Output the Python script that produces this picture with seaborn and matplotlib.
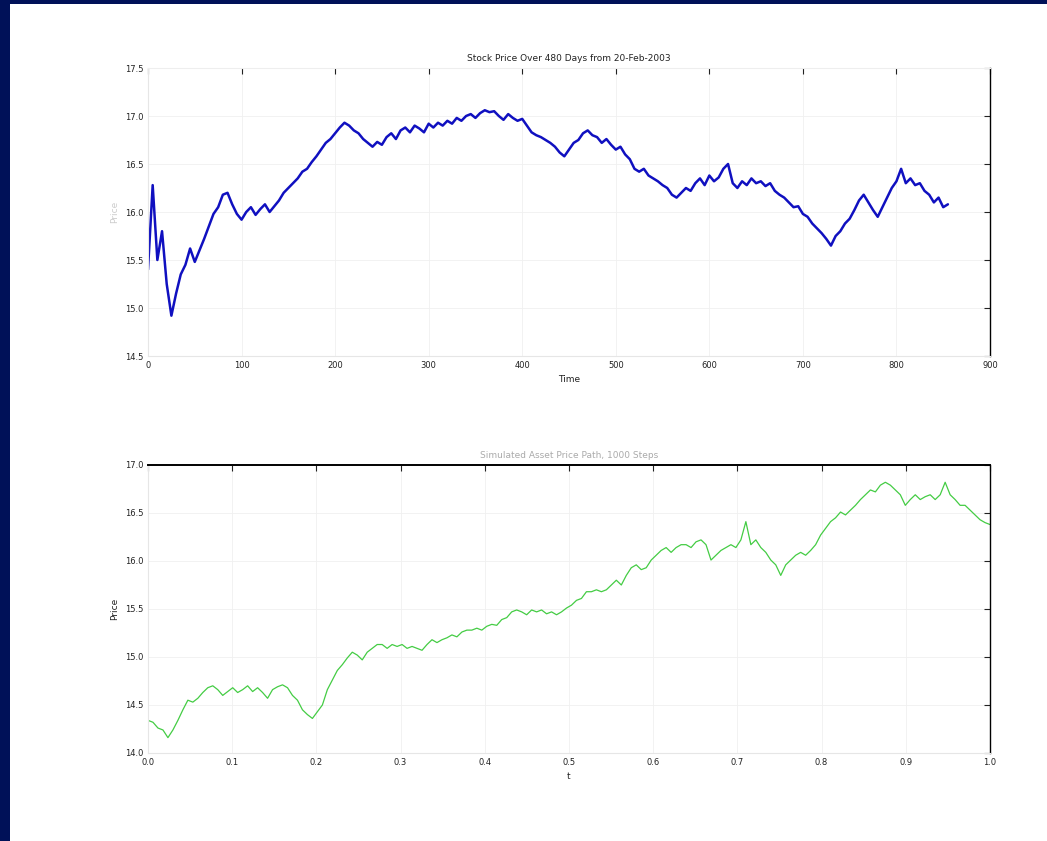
import numpy as np
import pandas as pd
import matplotlib
matplotlib.use("Agg")
import matplotlib.pyplot as plt
import seaborn as sns
from matplotlib.patches import Rectangle

# top panel: daily price path (sampled every 5 days)
top_days_step = 5
top_price = [
    15.40, 16.28, 15.50, 15.80, 15.25, 14.92, 15.15, 15.35, 15.45, 15.62,
    15.48, 15.60, 15.72, 15.85, 15.98, 16.05, 16.18, 16.20, 16.08, 15.98,
    15.92, 16.00, 16.05, 15.97, 16.03, 16.08, 16.00, 16.06, 16.12, 16.20,
    16.25, 16.30, 16.35, 16.42, 16.45, 16.52, 16.58, 16.65, 16.72, 16.76,
    16.82, 16.88, 16.93, 16.90, 16.85, 16.82, 16.76, 16.72, 16.68, 16.73,
    16.70, 16.78, 16.82, 16.76, 16.85, 16.88, 16.83, 16.90, 16.87, 16.83,
    16.92, 16.88, 16.93, 16.90, 16.95, 16.92, 16.98, 16.95, 17.00, 17.02,
    16.98, 17.03, 17.06, 17.04, 17.05, 17.00, 16.96, 17.02, 16.98, 16.95,
    16.97, 16.90, 16.83, 16.80, 16.78, 16.75, 16.72, 16.68, 16.62, 16.58,
    16.65, 16.72, 16.75, 16.82, 16.85, 16.80, 16.78, 16.72, 16.76, 16.70,
    16.65, 16.68, 16.60, 16.55, 16.45, 16.42, 16.45, 16.38, 16.35, 16.32,
    16.28, 16.25, 16.18, 16.15, 16.20, 16.25, 16.22, 16.30, 16.35, 16.28,
    16.38, 16.32, 16.36, 16.45, 16.50, 16.30, 16.25, 16.32, 16.28, 16.35,
    16.30, 16.32, 16.27, 16.30, 16.22, 16.18, 16.15, 16.10, 16.05, 16.06,
    15.98, 15.95, 15.88, 15.83, 15.78, 15.72, 15.65, 15.75, 15.80, 15.88,
    15.93, 16.02, 16.12, 16.18, 16.10, 16.02, 15.95, 16.05, 16.15, 16.25,
    16.32, 16.45, 16.30, 16.35, 16.28, 16.30, 16.22, 16.18, 16.10, 16.15,
    16.05, 16.08,
]

# bottom panel: simulated path on t in [0, 1]
bottom_price = [
    14.34, 14.32, 14.26, 14.24, 14.16, 14.24, 14.34, 14.45, 14.55, 14.53,
    14.57, 14.63, 14.68, 14.70, 14.66, 14.60, 14.64, 14.68, 14.63, 14.66,
    14.70, 14.64, 14.68, 14.63, 14.57, 14.66, 14.69, 14.71, 14.68, 14.60,
    14.55, 14.45, 14.40, 14.36, 14.43, 14.50, 14.66, 14.76, 14.86, 14.92,
    14.99, 15.05, 15.02, 14.97, 15.05, 15.09, 15.13, 15.13, 15.09, 15.13,
    15.11, 15.13, 15.09, 15.11, 15.09, 15.07, 15.13, 15.18, 15.15, 15.18,
    15.20, 15.23, 15.21, 15.26, 15.28, 15.28, 15.30, 15.28, 15.32, 15.34,
    15.33, 15.39, 15.41, 15.47, 15.49, 15.47, 15.44, 15.49, 15.47, 15.49,
    15.45, 15.47, 15.44, 15.47, 15.51, 15.54, 15.59, 15.61, 15.68, 15.68,
    15.70, 15.68, 15.70, 15.75, 15.80, 15.75, 15.85, 15.93, 15.96, 15.91,
    15.93, 16.01, 16.06, 16.11, 16.14, 16.09, 16.14, 16.17, 16.17, 16.14,
    16.20, 16.22, 16.17, 16.01, 16.06, 16.11, 16.14, 16.17, 16.14, 16.22,
    16.41, 16.17, 16.22, 16.14, 16.09, 16.01, 15.96, 15.85, 15.96, 16.01,
    16.06, 16.09, 16.06, 16.11, 16.17, 16.27, 16.34, 16.41, 16.45, 16.51,
    16.48, 16.53, 16.58, 16.64, 16.69, 16.74, 16.72, 16.79, 16.82, 16.79,
    16.74, 16.69, 16.58, 16.64, 16.69, 16.64, 16.67, 16.69, 16.64, 16.69,
    16.82, 16.69, 16.64, 16.58, 16.58, 16.53, 16.48, 16.43, 16.40, 16.38,
]

top_yticks = [14.5, 15, 15.5, 16, 16.5, 17, 17.5]
top_xticks = [0, 100, 200, 300, 400, 500, 600, 700, 800, 900]
bottom_yticks = [14, 14.5, 15, 15.5, 16, 16.5, 17]
bottom_xticks = [0, 0.1, 0.2, 0.3, 0.4, 0.5, 0.6, 0.7, 0.8, 0.9, 1]

top_title = "Stock Price Over 480 Days from 20-Feb-2003"
bottom_title = "Simulated Asset Price Path, 1000 Steps"

top_df = pd.DataFrame({
    "day": np.arange(len(top_price)) * top_days_step,
    "price": top_price,
})
bottom_df = pd.DataFrame({
    "t": np.linspace(0, 1, len(bottom_price)),
    "price": bottom_price,
})

sns.set_style("white")
plt.rcParams["font.family"] = ["DejaVu Sans"]

fig = plt.figure(figsize=(10.47, 8.41), dpi=100)
fig.patch.set_facecolor("#001158")
# white slide area (drawn behind the axes)
fig.patches.append(Rectangle((10 / 1047, 0), 1, 1 - 4 / 841,
                             transform=fig.transFigure, facecolor="white",
                             edgecolor="none", zorder=-10))

ax1 = fig.add_axes([148 / 1047, 1 - 356 / 841, 842 / 1047, 288 / 841])
ax2 = fig.add_axes([148 / 1047, 1 - 753 / 841, 842 / 1047, 288 / 841])

sns.lineplot(data=top_df, x="day", y="price", ax=ax1,
             color="#1010c0", linewidth=1.8)
sns.lineplot(data=bottom_df, x="t", y="price", ax=ax2,
             color="#44cc44", linewidth=0.9)

for ax, xt, yt in [(ax1, top_xticks, top_yticks),
                   (ax2, bottom_xticks, bottom_yticks)]:
    ax.set_facecolor("white")
    ax.set_xticks(xt)
    ax.set_yticks(yt)
    ax.set_xlim(xt[0], xt[-1])
    ax.set_ylim(yt[0], yt[-1])
    ax.tick_params(direction="in", top=True, right=True, length=4,
                   width=0.8, labelsize=6, colors="#222222")
    ax.grid(True, color="#f0f0f0", linewidth=0.6)
    for side in ["left", "bottom"]:
        ax.spines[side].set_color("#e6e6e6")
    ax.spines["right"].set_color("black")
    ax.spines["right"].set_linewidth(1.0)

ax1.spines["top"].set_color("#eeeeee")
ax2.spines["top"].set_color("black")
ax2.spines["top"].set_linewidth(1.4)

ax1.set_title(top_title, fontsize=6.5, color="#222222", pad=5)
ax2.set_title(bottom_title, fontsize=6.5, color="#aaaaaa", pad=5)
ax1.set_xlabel("Time", fontsize=6.5, color="#222222")
ax1.set_ylabel("Price", fontsize=6.5, color="#cccccc")
ax2.set_xlabel("t", fontsize=6.5, color="#222222")
ax2.set_ylabel("Price", fontsize=6.5, color="#222222")

fig.savefig("out.png", dpi=100, facecolor=fig.get_facecolor())
